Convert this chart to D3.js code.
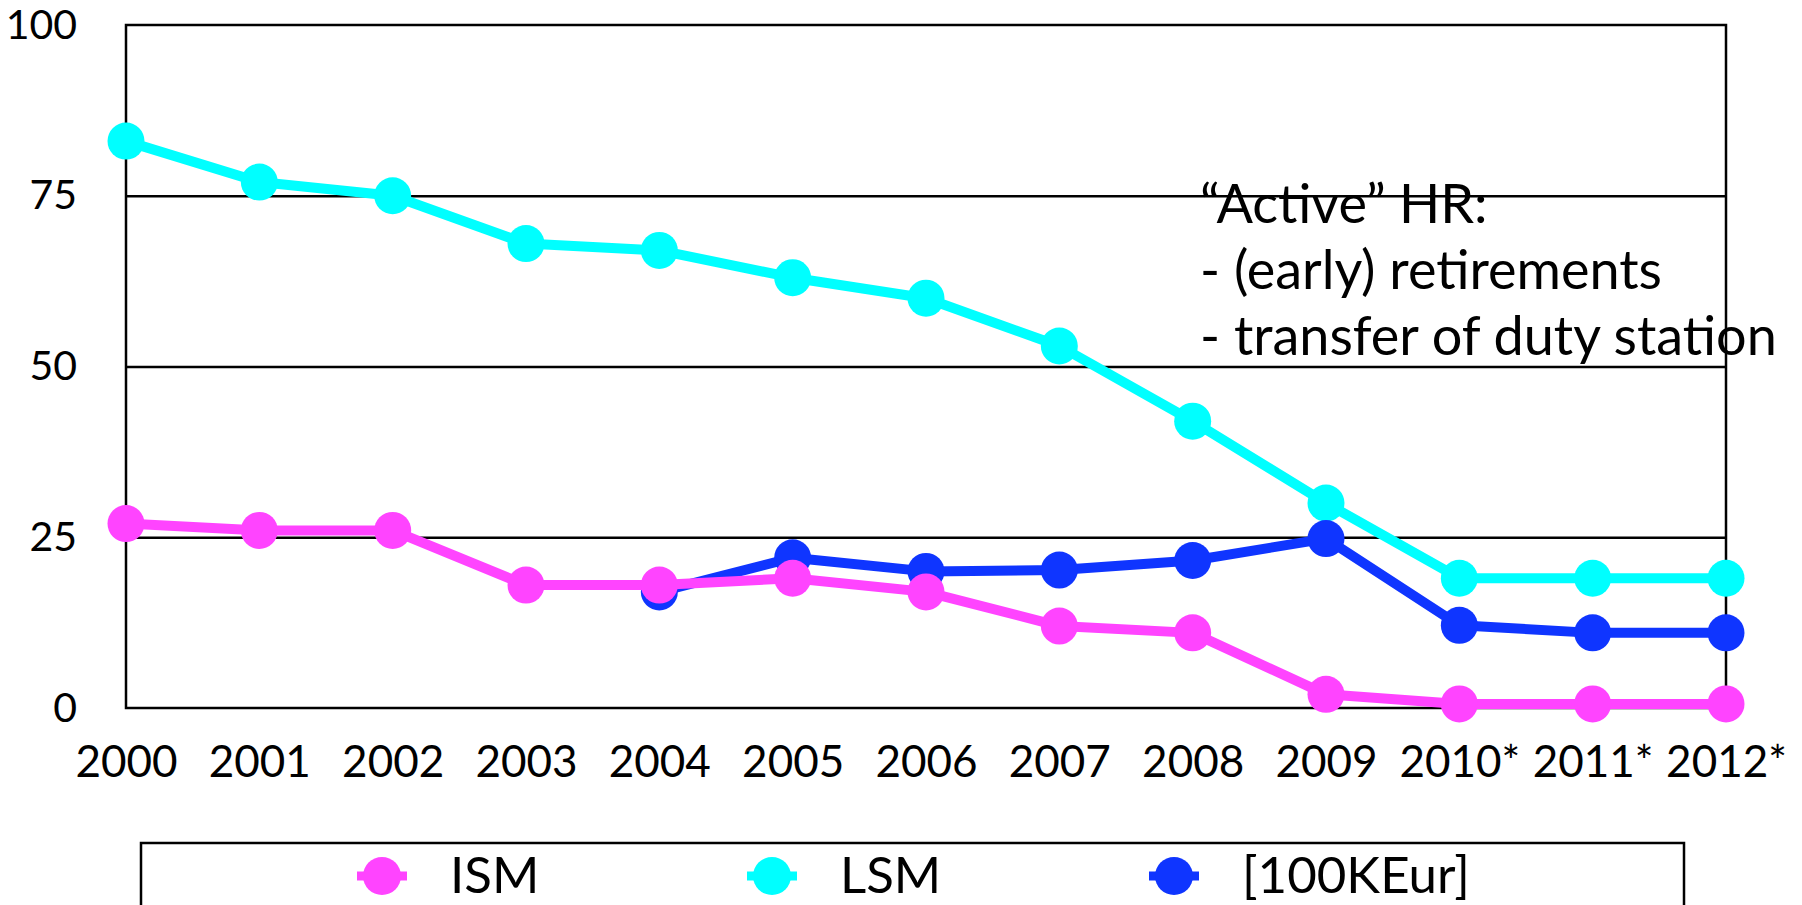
<!DOCTYPE html>
<html>
<head>
<meta charset="utf-8">
<script src="https://cdn.jsdelivr.net/npm/d3@7"></script>
<style>
  body { margin: 0; background: #fff; }
  text { font-family: Lato, "Open Sans", sans-serif; fill: #000; }
</style>
</head>
<body>
<div id="chart"></div>
<script>
var years = ["2000", "2001", "2002", "2003", "2004", "2005", "2006", "2007", "2008", "2009", "2010*", "2011*", "2012*"];
var ismValues = [27, 26, 26, 18, 18, 19, 17, 12, 11, 2, 0.6, 0.6, 0.6];
var lsmValues = [83, 77, 75, 68, 67, 63, 60, 53, 42, 30, 19, 19, 19];
var keurValues = [null, null, null, null, 17, 22, 20, 20.2, 21.6, 24.8, 12.1, 11, 11];
var yTicks = [0, 25, 50, 75, 100];
var noteLines = ["\u201cActive\u201d HR:", "- (early) retirements", "- transfer of duty station"];

var series = [
  { name: "LSM", values: lsmValues, color: "#00ffff" },
  { name: "[100KEur]", values: keurValues, color: "#0f35ff" },
  { name: "ISM", values: ismValues, color: "#ff44ff" }
];
var legendOrder = ["ISM", "LSM", "[100KEur]"];

var svgWidth = 1802;
var svgHeight = 905;
var margin = { top: 25, right: 76, bottom: 197, left: 126 };
var width = svgWidth - margin.left - margin.right;
var height = svgHeight - margin.top - margin.bottom;

var svg = d3.select("#chart")
  .append("svg")
  .attr("width", svgWidth)
  .attr("height", svgHeight);

var chartGroup = svg.append("g")
  .attr("transform", `translate(${margin.left}, ${margin.top})`);

var xScale = d3.scalePoint()
  .domain(years)
  .range([0, width]);

var yScale = d3.scaleLinear()
  .domain([0, 100])
  .range([height, 0]);

// annotation goes under the grid, the grid lines cross it in the original
var note = chartGroup.append("text")
  .attr("x", 1200 - margin.left)
  .attr("y", 223 - margin.top)
  .attr("font-size", "54px");
note.selectAll("tspan")
  .data(noteLines)
  .enter()
  .append("tspan")
  .attr("x", 1200 - margin.left)
  .attr("dy", (d, i) => i === 0 ? 0 : 66)
  .text(d => d);

// grid lines
var grid = chartGroup.append("g")
  .call(d3.axisLeft(yScale).tickValues([25, 50, 75]).tickSize(-width).tickFormat(""));
grid.select(".domain").remove();
grid.selectAll("line").attr("stroke", "#000").attr("stroke-width", 2.5);

chartGroup.append("rect")
  .attr("width", width)
  .attr("height", height)
  .attr("fill", "none")
  .attr("stroke", "#000")
  .attr("stroke-width", 2.5);

// axes labels
var leftAxis = chartGroup.append("g")
  .call(d3.axisLeft(yScale).tickValues(yTicks).tickSize(0).tickPadding(49));
leftAxis.select(".domain").remove();
leftAxis.selectAll("text").attr("font-size", "41px").attr("font-family", "Lato");

var bottomAxis = chartGroup.append("g")
  .attr("transform", `translate(0, ${height})`)
  .call(d3.axisBottom(xScale).tickSize(0).tickPadding(38));
bottomAxis.select(".domain").remove();
bottomAxis.selectAll("text").attr("font-size", "44px").attr("font-family", "Lato");

var line = d3.line()
  .defined(d => d.value !== null)
  .x(d => xScale(d.year))
  .y(d => yScale(d.value));

series.forEach(function(s) {
  var pts = s.values.map((v, i) => ({ year: years[i], value: v }));
  chartGroup.append("path")
    .datum(pts)
    .attr("d", line)
    .attr("fill", "none")
    .attr("stroke", s.color)
    .attr("stroke-width", 10)
    .attr("stroke-linejoin", "round");
  chartGroup.selectAll(null)
    .data(pts.filter(d => d.value !== null))
    .enter()
    .append("circle")
    .attr("cx", d => xScale(d.year))
    .attr("cy", d => yScale(d.value))
    .attr("r", 18.5)
    .attr("fill", s.color);
});

// legend
svg.append("rect")
  .attr("x", 141)
  .attr("y", 843)
  .attr("width", 1543)
  .attr("height", 100)
  .attr("fill", "none")
  .attr("stroke", "#000")
  .attr("stroke-width", 2.5);

var legendX = [382, 772, 1174];
legendOrder.forEach(function(name, i) {
  var s = series.find(d => d.name === name);
  var g = svg.append("g").attr("transform", `translate(${legendX[i]}, 876)`);
  g.append("line")
    .attr("x1", -25).attr("x2", 25)
    .attr("stroke", s.color)
    .attr("stroke-width", 9);
  g.append("circle")
    .attr("r", 19)
    .attr("fill", s.color);
  g.append("text")
    .attr("x", 68)
    .attr("y", 17)
    .attr("font-size", "51px")
    .text(name);
});
</script>
</body>
</html>
